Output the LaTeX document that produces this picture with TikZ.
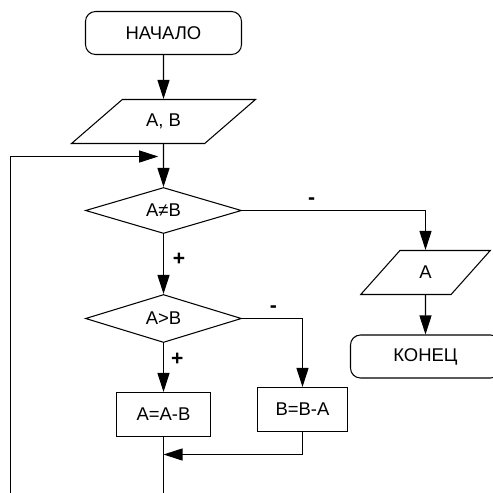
\documentclass[tikz,border=0pt]{standalone}
\usepackage{fontspec}
\setmainfont{Liberation Sans}
\usetikzlibrary{arrows.meta,shapes.geometric}
\tikzset{
>={Triangle[length=0.38cm,width=0.24cm]},
terminal/.style={draw,rounded corners=0.2cm,minimum width=3.12cm,minimum height=0.86cm},
io/.style={draw,trapezium,trapezium left angle=43,trapezium right angle=137,trapezium stretches=true,minimum height=0.88cm},
cond/.style={draw,diamond,aspect=3.5,inner sep=0pt,minimum width=3.12cm,minimum height=0.92cm},
process/.style={draw,minimum width=1.88cm,minimum height=0.88cm},
freccia/.style={->,line width=0.6pt},
segno/.style={font=\fontsize{12}{14}\selectfont\bfseries,inner sep=2pt}}

\begin{document}
\begin{tikzpicture}[line width=0.6pt,font=\fontsize{10.5}{12}\selectfont]

\clip (0,0) rectangle (9.86,-9.86);
\node[terminal] (start) at (3.27,-0.66) {НАЧАЛО};
\node[io,minimum width=3.7cm] (input) at (3.27,-2.43) {A, B};
\node[cond] (neq) at (3.27,-4.21) {A≠B};
\node[cond,minimum height=0.96cm] (gt) at (3.27,-6.37) {A>B};
\node[process] (suba) at (3.27,-8.29) {A=A-B};
\node[process,minimum width=1.8cm,minimum height=0.88cm] (subb) at (6.05,-8.19) {B=B-A};
\node[io,minimum width=2.6cm,trapezium left angle=53,trapezium right angle=127] (output) at (8.51,-5.45) {A};
\node[terminal,minimum width=3.0cm] (finish) at (8.51,-7.13) {КОНЕЦ};

\coordinate (join) at (3.27,-3.13);
\coordinate (merge) at (3.27,-9.09);

\draw[freccia] (start) -- (input);
\draw[freccia] (input) -- (neq);
\draw[freccia] (neq) -- node[segno,pos=0.42,right=3pt] {+} (gt);
\draw[freccia] (neq) -| node[segno,pos=0.19,above=1pt] {-} (output);
\draw[freccia] (output) -- (finish);
\draw[freccia] (gt) -- node[segno,pos=0.33,right=2pt] {+} (suba);
\draw[freccia] (gt) -| node[segno,pos=0.26,above=1pt] {-} (subb);
\draw[freccia] (subb) |- (merge);
\draw[freccia,shorten >=3pt] (suba) -- ++(0,-2) -| (0.21,-3.13) -- (join);

\end{tikzpicture}
\end{document}
